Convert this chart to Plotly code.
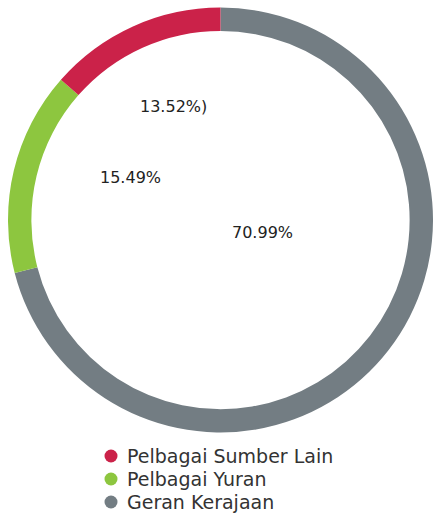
import plotly.graph_objects as go

# Funding sources and their shares (%)
labels = ["Pelbagai Sumber Lain", "Pelbagai Yuran", "Geran Kerajaan"]
values = [13.52, 15.49, 70.99]
colors = ["#cb2249", "#8dc63f", "#737d83"]
value_texts = ["13.52%)", "15.49%", "70.99%"]

W, H = 433, 517
FONT = "DejaVu Sans"

fig = go.Figure()

# Ring drawn clockwise from 12 o'clock: Geran Kerajaan first, Sumber Lain last
fig.add_trace(go.Pie(
    labels=labels[::-1],
    values=values[::-1],
    hole=0.89,
    sort=False,
    direction="clockwise",
    rotation=0,
    marker=dict(colors=colors[::-1], line=dict(width=0)),
    textinfo="none",
    hoverinfo="label+percent",
    showlegend=False,
    domain=dict(x=[8 / W, 1.0], y=[1 - 433.5 / H, 1 - 6.5 / H]),
))

# Percentage labels placed inside the ring's hole
label_pos = [(173, 95), (98, 177), (295, 232)]
for txt, (px, py) in zip(value_texts, label_pos):
    fig.add_annotation(
        x=px / W, y=1 - py / H, xref="paper", yref="paper",
        text=txt, showarrow=False,
        font=dict(family=FONT, size=16, color="#222222"),
    )

# Legend rows: round swatch followed by the category name
leg_x, leg_y0, leg_dy, dot_r = 111, 456, 23, 6.5
for i, (name, col) in enumerate(zip(labels, colors)):
    cy = leg_y0 + i * leg_dy
    fig.add_shape(
        type="circle", xref="paper", yref="paper",
        x0=(leg_x - dot_r) / W, x1=(leg_x + dot_r) / W,
        y0=1 - (cy + dot_r) / H, y1=1 - (cy - dot_r) / H,
        fillcolor=col, line=dict(width=0),
    )
    fig.add_annotation(
        x=126 / W, y=1 - cy / H, xref="paper", yref="paper",
        xanchor="left", yanchor="middle", borderpad=0,
        text=name, showarrow=False,
        font=dict(family=FONT, size=19, color="#333333"),
    )

fig.update_layout(
    width=W, height=H,
    margin=dict(l=0, r=0, t=0, b=0),
    paper_bgcolor="white",
    plot_bgcolor="white",
    showlegend=False,
    xaxis=dict(visible=False),
    yaxis=dict(visible=False),
)

fig.write_html("out.html")
